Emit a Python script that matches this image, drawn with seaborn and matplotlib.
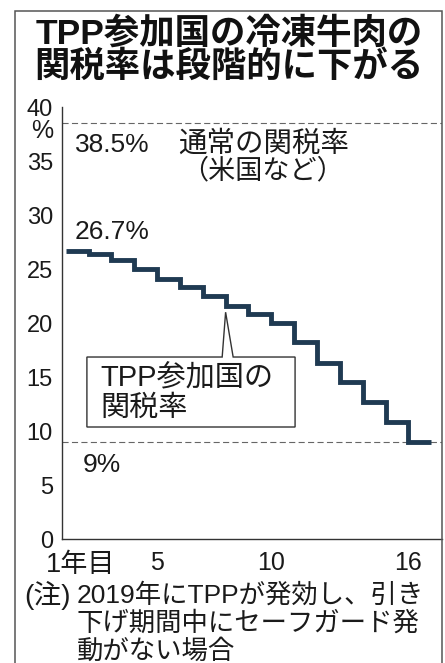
import matplotlib
matplotlib.use("Agg")
import matplotlib.pyplot as plt
import seaborn as sns
import pandas as pd
from matplotlib.patches import Polygon, Rectangle

# ---- data -------------------------------------------------------------
years = list(range(1, 17))
tpp_rates = [26.7, 26.4, 25.8, 25.0, 24.1, 23.3, 22.5, 21.6,
             20.8, 20.0, 18.2, 16.3, 14.5, 12.7, 10.8, 9.0]
normal_rate = 38.5
y_ticks = [0, 5, 10, 15, 20, 25, 30, 35, 40]
x_label_years = [1, 5, 10, 16]
x_label_text = ["1年目", "5", "10", "16"]

title_lines = ["TPP参加国の冷凍牛肉の", "関税率は段階的に下がる"]
note_mark = "(注)"
note_lines = ["2019年にTPPが発効し、引き",
              "下げ期間中にセーフガード発",
              "動がない場合"]
normal_caption = ["通常の関税率", "（米国など）"]
tpp_caption = ["TPP参加国の", "関税率"]

# ---- figure -----------------------------------------------------------
W, H, DPI = 445, 663, 100
sns.set_theme(style="white")
plt.rcParams["font.family"] = ["Liberation Sans", "Noto Sans CJK JP"]
plt.rcParams["axes.unicode_minus"] = False

INK = "#1a1a1a"
LINE = "#1f3a52"
FS_YTICK = 17
FS_XTICK = 18
FS = 19          # value labels and note
FS_CAP = 20.5    # captions inside the plot

fig = plt.figure(figsize=(W / DPI, H / DPI), dpi=DPI)
fig.patch.set_facecolor("white")


def fx(px):
    return px / W


def fy(py):
    return 1 - py / H


ax = fig.add_axes([fx(62), fy(539), fx(442) - fx(62), fy(107) - fy(539)])
ax.set_facecolor("white")

# step series; the last year's rate runs on to the end of year 16
df = pd.DataFrame({"year": years + [years[-1] + 1],
                   "rate": tpp_rates + [tpp_rates[-1]]})
sns.lineplot(data=df, x="year", y="rate", drawstyle="steps-post",
             color=LINE, lw=3.5, ax=ax, zorder=3,
             solid_joinstyle="miter", solid_capstyle="butt")

# reference levels
for level in (normal_rate, tpp_rates[-1]):
    ax.axhline(level, color="#666666", lw=0.8, ls=(0, (5.5, 3)), zorder=1)

ax.set_xlim(0.84, 17.47)
ax.set_ylim(0, 40)
ax.set_xlabel("")
ax.set_ylabel("")

for side in ("top", "right"):
    ax.spines[side].set_visible(False)
for side in ("left", "bottom"):
    ax.spines[side].set_color("#333333")
    ax.spines[side].set_linewidth(1.0)

ax.set_yticks(y_ticks)
ax.set_yticklabels([str(v) for v in y_ticks])
ax.set_xticks(years)
labels = dict(zip(x_label_years, x_label_text))
ax.set_xticklabels([labels.get(y, "") if y != x_label_years[0] else ""
                    for y in years])
ax.tick_params(axis="both", direction="in", length=5, width=0.8,
               color="#333333", labelcolor=INK)
ax.tick_params(axis="x", pad=9, labelsize=FS_XTICK)
ax.tick_params(axis="y", pad=6.5, labelsize=FS_YTICK)

# first-year label sits slightly right of its tick
ax.annotate(x_label_text[0], xy=(x_label_years[0], 0),
            xycoords=("data", "axes fraction"), xytext=(10.5, -9),
            textcoords="offset points", ha="center", va="top",
            fontsize=19.5, color=INK)
# unit under the top tick label
ax.annotate("%", xy=(0, 37.8), xycoords=("axes fraction", "data"),
            xytext=(-6.5, 0), textcoords="offset points",
            ha="right", va="center", fontsize=18, color=INK)

# value labels
ax.text(1.41, normal_rate - 2.0, f"{normal_rate:g}%", ha="left",
        va="center", fontsize=FS, color=INK)
ax.text(9.65, normal_rate - 2.0, normal_caption[0], ha="center",
        va="center", fontsize=FS_CAP, color=INK)
ax.text(9.6, normal_rate - 4.5, normal_caption[1], ha="center",
        va="center", fontsize=FS_CAP - 1, color=INK)
ax.text(1.41, tpp_rates[0] + 1.7, f"{tpp_rates[0]:g}%", ha="left",
        va="center", fontsize=FS, color=INK)
ax.text(1.76, tpp_rates[-1] - 2.15, f"{tpp_rates[-1]:g}%", ha="left",
        va="center", fontsize=FS, color=INK)

# callout box pointing at year 8
apex = (years[7], tpp_rates[7] - 0.6)
bx0, bx1, by0, by1 = 1.93, 11.04, 10.37, 16.85
callout = Polygon([(bx0, by0), (bx0, by1), (7.85, by1), apex,
                   (8.33, by1), (bx1, by1), (bx1, by0)],
                  closed=True, fc="white", ec="#333333", lw=1.0,
                  joinstyle="miter", zorder=4)
ax.add_patch(callout)
ax.text(2.50, 14.9, tpp_caption[0], ha="left", va="center",
        fontsize=FS_CAP + 0.5, color=INK, zorder=5)
ax.text(2.50, 12.13, tpp_caption[1], ha="left", va="center",
        fontsize=FS_CAP + 0.5, color=INK, zorder=5)

# outer frame
fig.add_artist(Rectangle((fx(15), fy(720)), fx(442) - fx(15),
                         fy(11) - fy(720), transform=fig.transFigure,
                         fill=False, ec="#555555", lw=1.1))

# title
for i, line in enumerate(title_lines):
    fig.text(fx(229), fy(34 + 33 * i), line, ha="center", va="center",
             fontsize=25.5, fontweight="bold", color="#111111")

# note
fig.text(fx(24), fy(595), note_mark, ha="left", va="center",
         fontsize=FS + 1, color=INK)
for i, line in enumerate(note_lines):
    fig.text(fx(77), fy(595 + 28 * i), line, ha="left", va="center",
             fontsize=FS, color=INK)

fig.savefig("out.png", dpi=DPI, facecolor="white")
